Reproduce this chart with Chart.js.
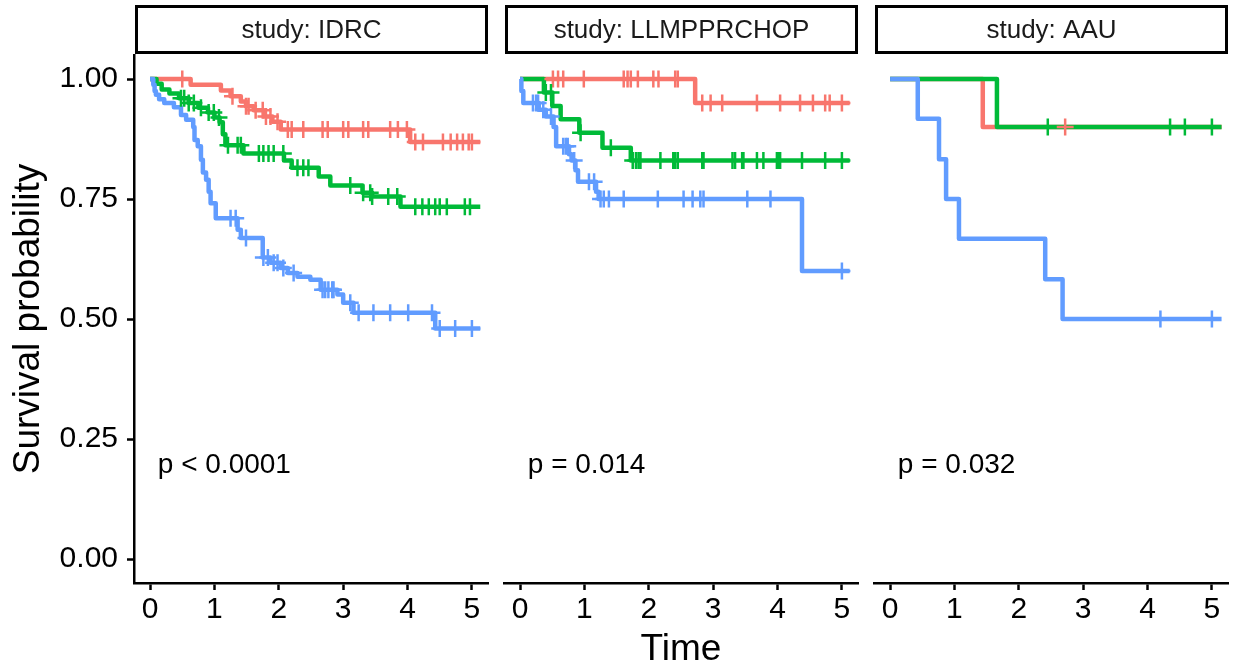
<!DOCTYPE html>
<html>
<head>
<meta charset="utf-8">
<script src="https://cdn.jsdelivr.net/npm/chart.js@4.4.1/dist/chart.umd.min.js"></script>
<style>
  body { margin: 0; background: #fff; width: 1235px; height: 670px; overflow: hidden; position: relative; }
  canvas { position: absolute; top: 0; }
</style>
</head>
<body>
<canvas id="panel0" width="490" height="670" style="left:0px"></canvas>
<canvas id="panel1" width="370" height="670" style="left:490px"></canvas>
<canvas id="panel2" width="375" height="670" style="left:860px"></canvas>
<script>
// facets and their log-rank p-values
const studies = ['IDRC', 'LLMPPRCHOP', 'AAU'];
const pLabels = ['p < 0.0001', 'p = 0.014', 'p = 0.032'];
const lastTime = [5.13, 5.12, 5.15];

const xTicks = [0, 1, 2, 3, 4, 5];
const yTicks = [0, 0.25, 0.5, 0.75, 1];

// IDRC: event times, survival after each event, censoring times
const idrcTime1 = [0.63, 1.10, 1.25, 1.41, 1.49, 1.61, 1.77, 1.90, 2.03, 4.04];
const idrcSurv1 = [0.988, 0.976, 0.964, 0.953, 0.943, 0.935, 0.922, 0.911, 0.895, 0.869];
const idrcCens1 = [0.50, 1.28, 1.49, 1.53, 1.64, 1.75, 1.80, 1.87, 1.98, 2.14, 2.20, 2.38, 2.68, 2.76, 3.00, 3.08, 3.31, 3.39, 3.73, 3.85, 3.99, 4.12, 4.24, 4.55, 4.67, 4.77, 4.86, 4.95, 5.00];

const idrcTime2 = [0.10, 0.18, 0.30, 0.45, 0.60, 0.75, 0.90, 1.00, 1.08, 1.13, 1.17, 1.45, 2.08, 2.20, 2.62, 2.80, 3.30, 3.45, 3.89];
const idrcSurv2 = [0.99, 0.978, 0.97, 0.96, 0.95, 0.94, 0.93, 0.92, 0.91, 0.885, 0.862, 0.845, 0.83, 0.815, 0.797, 0.778, 0.763, 0.755, 0.734];
const idrcCens2 = [0.48, 0.53, 0.60, 0.68, 0.79, 0.91, 0.99, 1.07, 1.21, 1.36, 1.41, 1.69, 1.76, 1.84, 1.92, 2.07, 2.29, 2.38, 2.46, 3.11, 3.31, 3.42, 3.45, 3.70, 3.84, 4.12, 4.23, 4.33, 4.43, 4.50, 4.61, 4.89, 4.97];

const idrcTime3 = [0.05, 0.07, 0.09, 0.14, 0.22, 0.37, 0.48, 0.56, 0.67, 0.69, 0.74, 0.79, 0.82, 0.87, 0.91, 0.94, 1.02, 1.36, 1.41, 1.75, 1.87, 2.03, 2.14, 2.29, 2.49, 2.65, 2.91, 3.00, 3.16, 4.43];
const idrcSurv3 = [0.988, 0.975, 0.967, 0.958, 0.95, 0.941, 0.925, 0.915, 0.90, 0.873, 0.86, 0.832, 0.805, 0.79, 0.765, 0.741, 0.71, 0.686, 0.669, 0.628, 0.617, 0.606, 0.596, 0.588, 0.582, 0.561, 0.551, 0.534, 0.513, 0.48];
const idrcCens3 = [1.25, 1.33, 1.49, 1.76, 1.83, 1.92, 1.98, 2.07, 2.23, 2.68, 2.72, 2.77, 2.83, 2.85, 3.11, 3.24, 3.47, 3.73, 4.01, 4.38, 4.50, 4.74, 5.00];

// LLMPPRCHOP
const llmTime1 = [2.72];
const llmSurv1 = [0.95];
const llmCens1 = [0.51, 0.59, 0.67, 0.99, 1.61, 1.67, 1.72, 1.83, 2.07, 2.15, 2.41, 2.45, 2.83, 2.96, 3.14, 3.68, 4.04, 4.35, 4.55, 4.74, 4.81, 5.00];

const llmTime2 = [0.37, 0.50, 0.63, 0.92, 1.28, 1.72];
const llmSurv2 = [0.972, 0.944, 0.916, 0.888, 0.857, 0.830];
const llmCens2 = [0.40, 0.48, 0.94, 1.41, 1.75, 1.80, 1.84, 1.87, 2.18, 2.38, 2.41, 2.45, 2.83, 2.85, 3.30, 3.34, 3.45, 3.47, 3.68, 3.78, 3.99, 4.01, 4.04, 4.38, 4.74, 5.00];

const llmTime3 = [0.02, 0.05, 0.29, 0.40, 0.52, 0.56, 0.76, 0.80, 0.86, 0.90, 1.18, 1.22, 4.38];
const llmSurv3 = [0.975, 0.95, 0.936, 0.922, 0.90, 0.86, 0.843, 0.83, 0.81, 0.786, 0.765, 0.75, 0.60];
const llmCens3 = [0.20, 0.25, 0.28, 0.36, 0.48, 0.67, 0.71, 0.74, 0.84, 1.07, 1.15, 1.25, 1.30, 1.38, 1.61, 2.14, 2.54, 2.68, 2.80, 2.85, 3.53, 3.89, 5.00];

// AAU
const aauTime1 = [1.44];
const aauSurv1 = [0.9];
const aauCens1 = [2.72];

const aauTime2 = [1.66];
const aauSurv2 = [0.9];
const aauCens2 = [2.45, 4.35, 4.58, 5.00];

const aauTime3 = [0.43, 0.76, 0.87, 1.07, 2.41, 2.68];
const aauSurv3 = [0.917, 0.833, 0.75, 0.667, 0.583, 0.5];
const aauCens3 = [4.20, 5.00];

const strataColors = ['#F8766D', '#00BA38', '#619CFF'];

const panels = [
  [[idrcTime1, idrcSurv1, idrcCens1], [idrcTime2, idrcSurv2, idrcCens2], [idrcTime3, idrcSurv3, idrcCens3]],
  [[llmTime1, llmSurv1, llmCens1], [llmTime2, llmSurv2, llmCens2], [llmTime3, llmSurv3, llmCens3]],
  [[aauTime1, aauSurv1, aauCens1], [aauTime2, aauSurv2, aauCens2], [aauTime3, aauSurv3, aauCens3]]
];

const FONT = '"Liberation Sans", Arial, Helvetica, sans-serif';

function stepPoints(times, surv, end) {
  const pts = [{ x: 0, y: 1 }];
  times.forEach((t, i) => pts.push({ x: t, y: surv[i] }));
  pts.push({ x: end, y: surv[surv.length - 1] });
  return pts;
}

function survAt(times, surv, t) {
  let s = 1;
  for (let i = 0; i < times.length; i++) if (times[i] <= t) s = surv[i];
  return s;
}

// strip header above each panel plus the p-value text inside it
const facetDecor = {
  id: 'facetDecor',
  afterDraw(chart, args, opts) {
    const { ctx, chartArea: a, scales: { x, y } } = chart;
    ctx.save();
    ctx.fillStyle = '#fff';
    ctx.strokeStyle = '#000';
    ctx.lineWidth = 3;
    ctx.fillRect(a.left + 2.5, 6.5, a.right - a.left - 4, 46);
    ctx.strokeRect(a.left + 2.5, 6.5, a.right - a.left - 4, 46);
    ctx.fillStyle = '#1a1a1a';
    ctx.font = '26px ' + FONT;
    ctx.textAlign = 'center';
    ctx.textBaseline = 'middle';
    ctx.fillText('study: ' + opts.study, (a.left + a.right) / 2 + 0.5, 31);

    ctx.fillStyle = '#000';
    ctx.font = '28px ' + FONT;
    ctx.textAlign = 'left';
    ctx.textBaseline = 'alphabetic';
    ctx.fillText(opts.pval, x.getPixelForValue(0.12), y.getPixelForValue(0.2) + 10);
    ctx.restore();
  }
};

function makePanel(idx) {
  const datasets = [];
  panels[idx].forEach((g, k) => {
    const [times, surv, cens] = g;
    datasets.push({
      type: 'line',
      data: stepPoints(times, surv, lastTime[idx]),
      stepped: 'before',
      borderColor: strataColors[k],
      borderWidth: 4.5,
      borderJoinStyle: 'round',
      pointRadius: 0,
      fill: false,
      order: 6 - k
    });
    datasets.push({
      type: 'scatter',
      data: cens.map(t => ({ x: t, y: survAt(times, surv, t) })),
      pointStyle: 'cross',
      pointRadius: 8.5,
      pointBorderWidth: 2.5,
      borderColor: strataColors[k],
      backgroundColor: strataColors[k],
      order: 3 - k
    });
  });

  const first = idx === 0;
  const canvas = document.getElementById('panel' + idx);
  return new Chart(canvas, {
    type: 'line',
    data: { datasets },
    options: {
      responsive: false,
      animation: false,
      devicePixelRatio: 1,
      layout: {
        autoPadding: false,
        padding: { top: 55, bottom: 0, left: first ? 0 : 14, right: idx === 2 ? 7 : 2 }
      },
      plugins: {
        legend: { display: false },
        tooltip: { enabled: false },
        facetDecor: { study: studies[idx], pval: pLabels[idx] }
      },
      scales: {
        x: {
          type: 'linear',
          min: -0.25,
          max: 5.25,
          afterBuildTicks: s => { s.ticks = xTicks.map(v => ({ value: v })); },
          afterFit: s => { s.height = 87; s.paddingLeft = 0; s.paddingRight = 0; },
          ticks: { color: '#000', font: { family: FONT, size: 30 }, padding: 2, maxRotation: 0, autoSkip: false, callback: v => String(v) },
          grid: { drawOnChartArea: false, drawTicks: true, tickLength: 7, tickWidth: 2.5, tickColor: '#000' },
          border: { display: true, color: '#000', width: 2.5 },
          title: {
            display: idx === 1,
            text: 'Time',
            color: '#000',
            font: { family: FONT, size: 37, lineHeight: 1 },
            padding: { top: 0, bottom: 2 }
          }
        },
        y: {
          display: first,
          min: -0.05,
          max: 1.05,
          afterBuildTicks: s => { s.ticks = yTicks.map(v => ({ value: v })); },
          afterFit: s => { s.width = first ? 134 : 0; s.paddingTop = 0; s.paddingBottom = 0; },
          ticks: { color: '#000', font: { family: FONT, size: 30 }, padding: 9, autoSkip: false, callback: v => v.toFixed(2) },
          grid: { drawOnChartArea: false, drawTicks: true, tickLength: 7, tickWidth: 2.5, tickColor: '#000' },
          border: { display: true, color: '#000', width: 2.5 },
          title: {
            display: true,
            text: 'Survival probability',
            color: '#000',
            font: { family: FONT, size: 37, lineHeight: 1 },
            padding: { top: 10, bottom: 0 }
          }
        }
      }
    },
    plugins: [facetDecor]
  });
}

[0, 1, 2].forEach(makePanel);
</script>
</body>
</html>
